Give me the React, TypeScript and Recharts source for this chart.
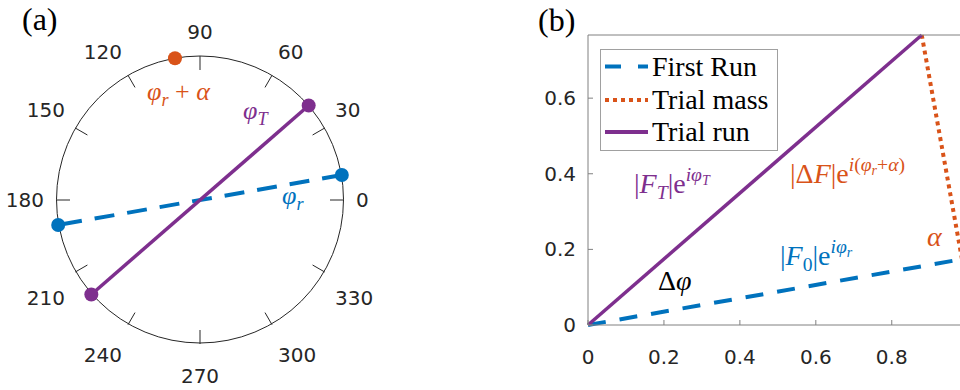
import React from 'react';
import {
  RadarChart, PolarAngleAxis, Radar,
  ScatterChart, Scatter, XAxis, YAxis,
  LineChart, Line, Legend,
} from 'recharts';

// panel (a): phase angles on the unit circle, degrees
const angleTicks = [0, 30, 60, 90, 120, 150, 180, 210, 240, 270, 300, 330];
const firstRunAngles = [10, 190];
const trialRunAngles = [41, 221];
const trialMassAngles = [100];

// panel (b): vectors
const firstRunVec = [{ x: 0, y: 0 }, { x: 0.985, y: 0.174 }];
const trialMassVec = [{ x: 0.985, y: 0.174 }, { x: 0.879, y: 0.767 }];
const trialRunVec = [{ x: 0, y: 0 }, { x: 0.879, y: 0.767 }];
const xTicks = [0, 0.2, 0.4, 0.6, 0.8];
const yTicks = [0, 0.2, 0.4, 0.6];

const BLUE = '#0072BD';
const ORANGE = '#D95319';
const PURPLE = '#7E2F8E';
const INK = '#262626';
const AXIS = '#808080';

const CX = 200;
const CY = 199.5;
const R = 143.5;

const rad = (deg: number) => (deg * Math.PI) / 180;
const toXY = (deg: number) => ({ x: Math.cos(rad(deg)), y: Math.sin(rad(deg)), deg });

const seriesStyle: Record<string, { color: string; dash?: string; width: number }> = {
  'First Run': { color: BLUE, dash: '16 17', width: 4 },
  'Trial mass': { color: ORANGE, dash: '4 4', width: 4 },
  'Trial run': { color: PURPLE, width: 4 },
};

// angle labels outside the circle, aligned away from it
const PolarTick = (props: any) => {
  const { payload } = props;
  const deg = Number(payload.value);
  const c = Math.cos(rad(deg));
  const s = Math.sin(rad(deg));
  const lr = R + 12.5;
  const lx = CX + lr * c;
  const ly = CY - lr * s;
  const anchor = c > 0.2 ? 'start' : c < -0.2 ? 'end' : 'middle';
  const by = s > 0.2 ? ly - 5 : s < -0.2 ? ly + 27 : ly + 7.5;
  return (
    <text x={lx} y={by} textAnchor={anchor} fontSize={20} fontFamily="DejaVu Sans" fill={INK}>
      {payload.value}
    </text>
  );
};

// inward tick mark at a point on the circle
const tickMark = (p: any) => {
  const d = p.payload.deg;
  const c = Math.cos(rad(d));
  const s = Math.sin(rad(d));
  return <line x1={p.cx} y1={p.cy} x2={p.cx - 14 * c} y2={p.cy + 14 * s} stroke={INK} strokeWidth={1} />;
};

const dot = (color: string) => (p: any) => <circle cx={p.cx} cy={p.cy} r={7} fill={color} />;

type Seg = { t: string; i?: boolean; lv?: 'sub' | 'sup' | 'supsub' };

const MathText = ({ x, y, size, color, segs }: { x: number; y: number; size: number; color: string; segs: Seg[] }) => {
  let cur = 0;
  return (
    <text x={x} y={y} fill={color} fontFamily="Liberation Serif" fontSize={size}>
      {segs.map((s, k) => {
        const target = s.lv === 'sub' ? 0.22 * size : s.lv === 'sup' ? -0.42 * size : s.lv === 'supsub' ? -0.3 * size : 0;
        const dy = target - cur;
        cur = target;
        const fs = s.lv === 'sub' || s.lv === 'sup' ? size * 0.7 : s.lv === 'supsub' ? size * 0.5 : size;
        return (
          <tspan key={k} dy={dy} fontSize={fs} fontStyle={s.i ? 'italic' : 'normal'}>
            {s.t}
          </tspan>
        );
      })}
    </text>
  );
};

const rowY = [17.5, 51, 83];

const LegendBox = (props: any) => {
  const items = (props.payload || []) as any[];
  return (
    <svg width={178} height={102} style={{ display: 'block' }}>
      <rect x={0.5} y={0.5} width={177} height={101} fill="#fff" stroke="#a0a0a0" strokeWidth={1} />
      {items.map((it, i) => {
        const st = seriesStyle[it.value];
        return (
          <g key={it.value}>
            <line x1={5} y1={rowY[i]} x2={48} y2={rowY[i]} stroke={st.color} strokeWidth={st.width} strokeDasharray={st.dash} />
            <text x={52} y={rowY[i] + 9} fontFamily="Liberation Serif" fontSize={28} fill="#000">{it.value}</text>
          </g>
        );
      })}
    </svg>
  );
};

export default function App() {
  const ticksData = angleTicks.map((a) => ({ angle: a, r: 0 }));
  return (
    <div style={{ position: 'absolute', left: 0, top: 0, width: 960, height: 390, overflow: 'hidden', background: '#fff' }}>
      {/* (a) angular frame */}
      <div style={{ position: 'absolute', left: 0, top: 0 }}>
        <RadarChart width={400} height={390} data={ticksData} cx={CX} cy={CY} outerRadius={R} startAngle={0} endAngle={360} margin={{ top: 0, right: 0, bottom: 0, left: 0 }}>
          <PolarAngleAxis dataKey="angle" axisLineType="circle" axisLine={{ stroke: INK, strokeWidth: 1 }} tickLine={false} tick={PolarTick} />
          <Radar dataKey="r" stroke="none" fill="none" dot={false} isAnimationActive={false} />
        </RadarChart>
      </div>
      {/* (a) vectors */}
      <div style={{ position: 'absolute', left: CX - 160, top: CY - 160 }}>
        <ScatterChart width={320} height={320} margin={{ top: 16, right: 16, bottom: 16, left: 16 }}>
          <XAxis type="number" dataKey="x" domain={[-1, 1]} hide />
          <YAxis type="number" dataKey="y" domain={[-1, 1]} hide />
          <Scatter data={angleTicks.map(toXY)} shape={tickMark} isAnimationActive={false} />
          <Scatter data={firstRunAngles.map(toXY)} line={{ stroke: BLUE, strokeWidth: 4, strokeDasharray: '20 13' }} shape={dot(BLUE)} isAnimationActive={false} />
          <Scatter data={trialRunAngles.map(toXY)} line={{ stroke: PURPLE, strokeWidth: 3.5 }} shape={dot(PURPLE)} isAnimationActive={false} />
          <Scatter data={trialMassAngles.map(toXY)} shape={dot(ORANGE)} isAnimationActive={false} />
        </ScatterChart>
      </div>
      {/* (b) */}
      <div style={{ position: 'absolute', left: 480, top: 0 }}>
        <LineChart width={490} height={390} margin={{ top: 34, right: 8, bottom: 0, left: 0 }}>
          <XAxis type="number" dataKey="x" domain={[0, 0.985]} ticks={xTicks} height={65} tickSize={-5} tickMargin={30}
            axisLine={{ stroke: AXIS }} tickLine={{ stroke: AXIS }} tick={{ fill: INK, fontSize: 20, fontFamily: 'DejaVu Sans' }} />
          <XAxis xAxisId="top" orientation="top" type="number" dataKey="x" domain={[0, 0.985]} ticks={xTicks} height={1} tickSize={-5}
            tickFormatter={() => ''} axisLine={{ stroke: AXIS }} tickLine={{ stroke: AXIS }} />
          <YAxis type="number" domain={[0, 0.767]} ticks={yTicks} width={108} tickSize={-5} tickMargin={17}
            axisLine={{ stroke: AXIS }} tickLine={{ stroke: AXIS }} tick={{ fill: INK, fontSize: 20, fontFamily: 'DejaVu Sans' }} />
          <Line data={firstRunVec} dataKey="y" name="First Run" type="linear" stroke={BLUE} strokeWidth={4} strokeDasharray="18 14" dot={false} isAnimationActive={false} />
          <Line data={trialMassVec} dataKey="y" name="Trial mass" type="linear" stroke={ORANGE} strokeWidth={4} strokeDasharray="4 4" dot={false} isAnimationActive={false} />
          <Line data={trialRunVec} dataKey="y" name="Trial run" type="linear" stroke={PURPLE} strokeWidth={3.5} dot={false} isAnimationActive={false} />
          <Legend layout="vertical" align="center" verticalAlign="middle" content={LegendBox}
            wrapperStyle={{ position: 'absolute', left: 120, top: 49, width: 178, height: 102 }} />
        </LineChart>
      </div>
      {/* labels */}
      <svg width={960} height={390} style={{ position: 'absolute', left: 0, top: 0, pointerEvents: 'none' }}>
        <text x={22} y={30} fontFamily="Liberation Serif" fontSize={32} fill="#000">(a)</text>
        <text x={538} y={31} fontFamily="Liberation Serif" fontSize={32} fill="#000">(b)</text>
        <MathText x={147} y={100} size={26} color={ORANGE} segs={[{ t: 'φ', i: true }, { t: 'r', i: true, lv: 'sub' }, { t: ' + ' }, { t: 'α', i: true }]} />
        <MathText x={243} y={119} size={26} color={PURPLE} segs={[{ t: 'φ', i: true }, { t: 'T', i: true, lv: 'sub' }]} />
        <MathText x={282} y={204} size={26} color={BLUE} segs={[{ t: 'φ', i: true }, { t: 'r', i: true, lv: 'sub' }]} />
        <MathText x={634} y={193} size={28} color={PURPLE} segs={[{ t: '|' }, { t: 'F', i: true }, { t: 'T', i: true, lv: 'sub' }, { t: '|e' }, { t: 'iφ', i: true, lv: 'sup' }, { t: 'T', i: true, lv: 'supsub' }]} />
        <MathText x={790} y={183} size={28} color={ORANGE} segs={[{ t: '|Δ' }, { t: 'F', i: true }, { t: '|e' }, { t: 'i', i: true, lv: 'sup' }, { t: '(', lv: 'sup' }, { t: 'φ', i: true, lv: 'sup' }, { t: 'r', i: true, lv: 'supsub' }, { t: '+', lv: 'sup' }, { t: 'α', i: true, lv: 'sup' }, { t: ')', lv: 'sup' }]} />
        <MathText x={927} y={246} size={28} color={ORANGE} segs={[{ t: 'α', i: true }]} />
        <MathText x={780} y={265} size={28} color={BLUE} segs={[{ t: '|' }, { t: 'F', i: true }, { t: '0', lv: 'sub' }, { t: '|e' }, { t: 'iφ', i: true, lv: 'sup' }, { t: 'r', i: true, lv: 'supsub' }]} />
        <MathText x={658} y={290} size={28} color="#000" segs={[{ t: 'Δ' }, { t: 'φ', i: true }]} />
      </svg>
    </div>
  );
}
